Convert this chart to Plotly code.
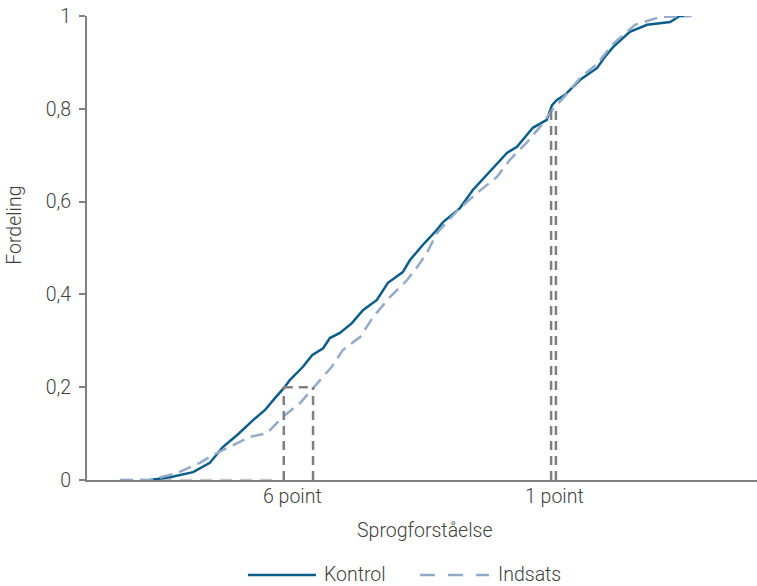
import plotly.graph_objects as go

# Kontrol (solid) cumulative distribution
kontrol_x = [13.1, 17.3, 22.1, 25.6, 28.3, 31.3, 34.6, 37.1, 39.2, 41.0, 42.3, 45.0, 46.9, 49.2,
             50.6, 52.7, 55.2, 57.5, 60.4, 62.7, 65.8, 67.3, 70.0, 72.9, 74.2, 77.7, 80.4, 82.9,
             85.4, 87.5, 89.6, 92.9, 95.8, 96.9, 97.9, 99.6, 102.7, 106.3, 107.9, 109.6, 113.1,
             116.7, 121.5, 123.5, 124.6]
kontrol_y = [0.000, 0.006, 0.017, 0.037, 0.071, 0.097, 0.129, 0.151, 0.177, 0.198, 0.216, 0.244,
             0.269, 0.284, 0.306, 0.317, 0.338, 0.366, 0.388, 0.425, 0.448, 0.474, 0.507, 0.539,
             0.556, 0.586, 0.625, 0.653, 0.683, 0.705, 0.718, 0.759, 0.776, 0.808, 0.819, 0.830,
             0.862, 0.888, 0.912, 0.933, 0.966, 0.981, 0.987, 1.000, 1.000]

# Indsats (dashed) cumulative distribution
indsats_x = [6.9, 13.1, 18.8, 23.5, 26.3, 30.4, 34.0, 37.5, 39.6, 40.8, 44.4, 47.1, 51.0, 53.3,
             56.9, 59.6, 63.1, 66.7, 68.8, 70.8, 72.9, 77.3, 81.3, 85.4, 88.1, 91.7, 94.4, 96.9,
             97.7, 99.6, 102.7, 106.3, 109.6, 114.2, 119.4, 123.5, 126.0]
indsats_y = [0.000, 0.000, 0.015, 0.037, 0.054, 0.075, 0.093, 0.101, 0.123, 0.136, 0.166, 0.198,
             0.244, 0.280, 0.308, 0.351, 0.394, 0.431, 0.459, 0.489, 0.532, 0.582, 0.619, 0.653,
             0.690, 0.728, 0.761, 0.797, 0.806, 0.828, 0.866, 0.897, 0.940, 0.981, 0.998, 1.000,
             1.000]

# Reference gaps at the 20% and 80% quantiles
gap_low = [41.0, 47.1]
gap_high = [96.7, 97.7]
gap_levels = [0.2, 0.8]
gap_labels = ["6 point", "1 point"]
gap_label_x = [42.9, 97.5]
base_line = [6.9, 39.5]

y_ticks = [0, 0.2, 0.4, 0.6, 0.8, 1]
y_tick_labels = ["0", "0,2", "0,4", "0,6", "0,8", "1"]

FONT = "Roboto"
TXT = "#3f3f3f"
GREY = "#808080"
FS = 19.5
C_K = "#0b5e8a"
C_I = "#93abc9"
DASH_I = "13px,7px"

fig = go.Figure()
fig.add_trace(go.Scatter(x=kontrol_x, y=kontrol_y, mode="lines", name="Kontrol",
                         line=dict(color=C_K, width=2.5), showlegend=False))
fig.add_trace(go.Scatter(x=indsats_x, y=indsats_y, mode="lines", name="Indsats",
                         line=dict(color=C_I, width=2.5, dash=DASH_I), showlegend=False))

# faint baseline dash along zero
fig.add_shape(type="line", x0=base_line[0], x1=base_line[1], y0=0, y1=0,
              line=dict(color="#c8c8c8", width=2.5, dash="12px,8px"), layer="below")

for (a, b), lvl in zip([gap_low, gap_high], gap_levels):
    for xv in (a, b):
        fig.add_shape(type="line", x0=xv, x1=xv, y0=0, y1=lvl,
                      line=dict(color=GREY, width=2.5, dash="9px,6px"))
fig.add_shape(type="line", x0=gap_low[0], x1=gap_low[1], y0=gap_levels[0], y1=gap_levels[0],
              line=dict(color=GREY, width=2.5, dash="9px,6px"))

font = dict(family=FONT, size=FS, color=TXT, weight=300)

for lx, lab in zip(gap_label_x, gap_labels):
    fig.add_annotation(x=lx, y=0, xref="x", yref="y", text=lab, showarrow=False,
                       xanchor="center", yanchor="top", yshift=-3, font=font)

fig.add_annotation(x=0.504, y=-0.108, xref="paper", yref="paper", text="Sprogforståelse",
                   showarrow=False, xanchor="center", yanchor="middle", font=font)
fig.add_annotation(x=-0.1075, y=0.55, xref="paper", yref="paper", text="Fordeling",
                   showarrow=False, textangle=-90, xanchor="center", yanchor="middle",
                   font=font)

# legend (drawn with long line samples as in the original)
leg_y = -0.2047
legend_items = [("Kontrol", C_K, "solid", 0.2403, 0.3418, 0.3507),
                ("Indsats", C_I, "15px,13px", 0.4970, 0.6000, 0.6104)]
for name, col, dash, x0, x1, xt in legend_items:
    fig.add_shape(type="line", xref="paper", yref="paper", x0=x0, x1=x1, y0=leg_y, y1=leg_y,
                  line=dict(color=col, width=2.5, dash=dash))
    fig.add_annotation(x=xt, y=leg_y, xref="paper", yref="paper", text=name, showarrow=False,
                       xanchor="left", yanchor="middle", font=font)

fig.update_layout(
    width=757, height=586,
    margin=dict(l=87, r=0, t=16, b=106, autoexpand=False),
    paper_bgcolor="white", plot_bgcolor="white",
    font=font,
    showlegend=False,
    xaxis=dict(range=[0, 139.6], showgrid=False, zeroline=False, showticklabels=False,
               ticks="", showline=True, linecolor=GREY, linewidth=2),
    yaxis=dict(range=[0, 1], tickvals=y_ticks, ticktext=y_tick_labels, showgrid=False,
               zeroline=False, showline=True, linecolor=GREY, linewidth=2,
               ticks="outside", ticklen=6, tickcolor=GREY, tickwidth=2,
               ticklabelstandoff=4, tickfont=font),
)

fig.write_html("out.html", config={"displayModeBar": False},
               post_script="document.body.style.margin='0';")
